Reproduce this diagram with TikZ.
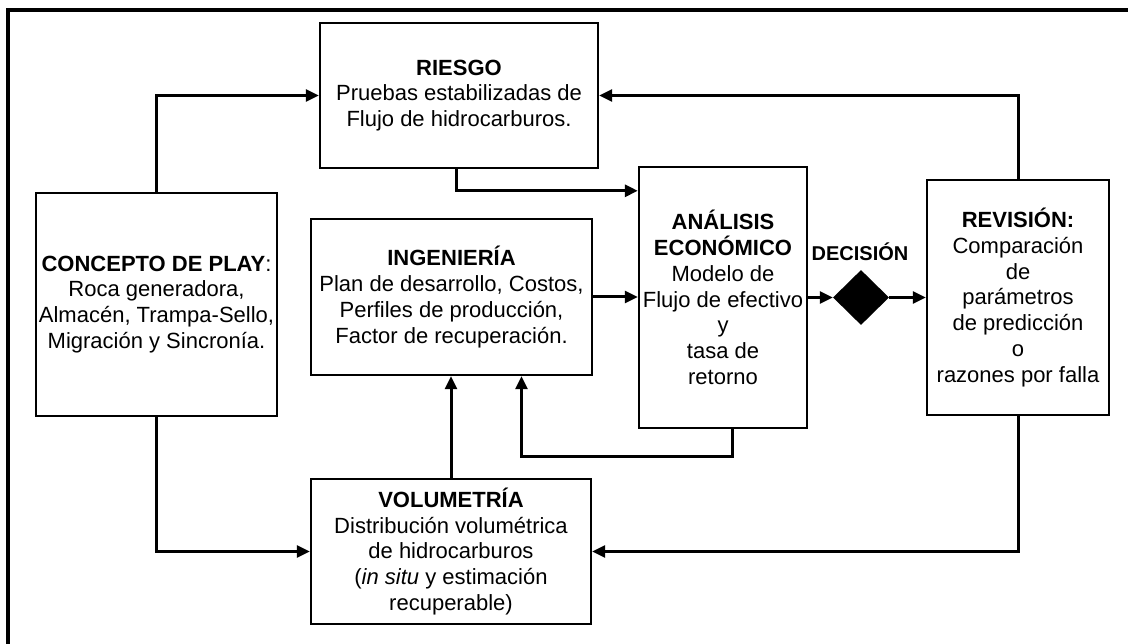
\documentclass[tikz,border=0pt]{standalone}
\usepackage{fontspec}
\setmainfont{Liberation Sans}
\usetikzlibrary{arrows.meta,shapes.geometric}

\begin{document}
\begin{tikzpicture}[x=1pt,y=-1pt,
  box/.style={draw,line width=2.4pt,align=center,inner sep=2pt,font=\fontsize{22}{25.8}\selectfont},
  link/.style={line width=3pt,-{Triangle[length=13pt,width=12pt]}},
  choice/.style={diamond,fill=black,inner sep=0pt,minimum width=56pt,minimum height=55pt},
  lbl/.style={font=\bfseries\fontsize{20}{24}\selectfont}]
  \useasboundingbox (0,0) rectangle (1128,644);
  % frame
  \draw[line width=3.2pt] (8,644) -- (8,10) -- (1128,10);
  % boxes
  \node[box,minimum width=278pt,minimum height=145pt] (riesgo) at (459,95.5)
    {\textbf{RIESGO}\\Pruebas estabilizadas de\\Flujo de hidrocarburos.};
  \node[box,minimum width=241pt,minimum height=223pt] (concepto) at (156.5,304.5)
    {\textbf{CONCEPTO DE PLAY}:\\Roca generadora,\\Almacén, Trampa-Sello,\\Migración y Sincronía.};
  \node[box,minimum width=281pt,minimum height=156pt] (ingenieria) at (451.5,297)
    {\textbf{INGENIERÍA}\\Plan de desarrollo, Costos,\\Perfiles de producción,\\Factor de recuperación.};
  \node[box,minimum width=168pt,minimum height=261pt] (analisis) at (723,297.5)
    {\textbf{ANÁLISIS}\\\textbf{ECONÓMICO}\\Modelo de\\Flujo de efectivo\\y\\tasa de\\retorno};
  \node[choice] (decision) at (861,297.5) {};
  \node[lbl] (declbl) at (860,252) {DECISIÓN};
  \node[box,minimum width=182pt,minimum height=235pt] (revision) at (1018,297.5)
    {\textbf{REVISIÓN:}\\Comparación\\de\\parámetros\\de predicción\\o\\razones por falla};
  \node[box,minimum width=280pt,minimum height=145pt] (volumetria) at (451,551.5)
    {\textbf{VOLUMETRÍA}\\Distribución volumétrica\\de hidrocarburos\\(\textit{in situ} y estimación\\recuperable)};
  % connectors
  \draw[link] (concepto.north) |- (riesgo.west);
  \draw[link] (concepto.south) |- (volumetria.west);
  \draw[link] (revision.north) |- (riesgo.east);
  \draw[link] (revision.south) |- (volumetria.east);
  \draw[link] ([xshift=-3pt]riesgo.south) |- ([yshift=-25pt]analisis.north west);
  \draw[link] (ingenieria.east) -- (ingenieria.east -| analisis.west);
  \draw[link] (analisis.east) -- (decision.west);
  \draw[link] (decision.east) -- (revision.west);
  \draw[link] (volumetria.north) -- (volumetria.north |- ingenieria.south);
  \draw[link] ([xshift=9pt]analisis.south) -- ++(0,27) -| ([xshift=70pt]ingenieria.south);
\end{tikzpicture}
\end{document}
